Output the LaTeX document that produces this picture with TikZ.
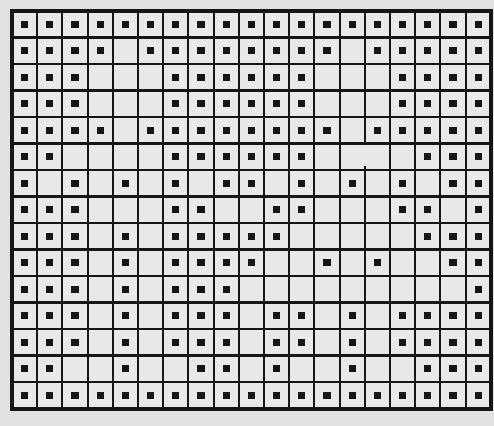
\documentclass[tikz,border=0pt]{standalone}
\definecolor{cpaper}{HTML}{E2E2E0}
\definecolor{ccell}{HTML}{E9E9E7}
\definecolor{cink}{HTML}{161616}
\tikzset{
  every picture/.style={line width=1pt},
  gridline/.style={draw=cink, line width=1.05pt},
  frame/.style={draw=cink, line width=1.9pt},
  dot/.style={fill=cink},
}

\begin{document}
\begin{tikzpicture}[x=0.5pt, y=-0.5pt]
  \useasboundingbox[fill=cpaper] (0,0) rectangle (494,426);
  % 19 x 15 cells, left 12, top 11, cell 25.2 x 26.5
  \fill[ccell] (12,11) rectangle (491,409);
  % vertical lines (line 14 has a break in row 6)
  \foreach \i in {1,...,13,15,16,17,18}
    \draw[gridline] ({12+\i*25.2},11) -- ({12+\i*25.2},409);
  \draw[gridline] ({12+14*25.2},11) -- ({12+14*25.2},{11+5*26.5});
  \draw[gridline] ({12+14*25.2},{11+5.85*26.5}) -- ({12+14*25.2},409);
  % horizontal lines
  \foreach \j in {1,...,14}
    \draw[gridline] (12,{11+\j*26.5}) -- (491,{11+\j*26.5});
  \draw[frame] (12,11) rectangle (491,409);
  % dots, one row per list
  \foreach \row [count=\r from 0] in {
    {1,1,1,1,1,1,1,1,1,1,1,1,1,1,1,1,1,1,1},
    {1,1,1,1,0,1,1,1,1,1,1,1,1,0,1,1,1,1,1},
    {1,1,1,0,0,0,1,1,1,1,1,1,0,0,0,1,1,1,1},
    {1,1,1,0,0,0,1,1,1,1,1,1,0,0,0,1,1,1,1},
    {1,1,1,1,0,1,1,1,1,1,1,1,1,0,1,1,1,1,1},
    {1,1,0,0,0,0,1,1,1,1,1,1,0,0,0,0,1,1,1},
    {1,0,1,0,1,0,1,0,1,1,0,1,0,1,0,1,0,1,1},
    {1,1,1,0,0,0,1,1,0,0,1,1,0,0,0,1,1,0,1},
    {1,1,1,0,1,0,1,1,1,1,1,0,0,0,0,0,1,1,1},
    {1,1,1,0,1,0,1,1,1,1,0,0,1,0,1,0,0,1,1},
    {1,1,1,0,1,0,1,1,1,0,0,0,0,0,0,0,0,0,1},
    {1,1,1,0,1,0,1,1,1,0,1,1,0,1,0,1,1,1,1},
    {1,1,1,0,1,0,1,1,1,0,1,1,0,1,0,1,1,1,1},
    {1,1,0,0,1,0,0,1,1,0,1,0,0,1,0,0,1,1,1},
    {1,1,1,1,1,1,1,1,1,1,1,1,1,1,1,1,1,1,1}}
    \foreach \b [count=\c from 0] in \row {
      \ifnum\b=1
        \fill[dot] ({12+(\c+0.5)*25.2-3.6},{11+(\r+0.5)*26.5-3.6}) rectangle ++(7.2,7.2);
      \fi
    };
\end{tikzpicture}
\end{document}
